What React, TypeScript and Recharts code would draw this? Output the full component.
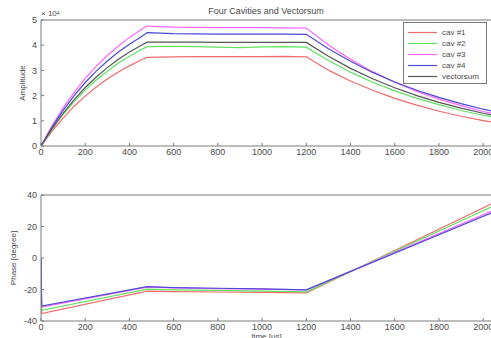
import React from 'react';
import { LineChart, Line, XAxis, YAxis } from 'recharts';

// ---------- data ----------
const timeUs = [0, 50, 100, 150, 200, 250, 300, 350, 400, 450, 480, 600, 700, 800, 900, 1000, 1100, 1200, 1300, 1400, 1500, 1600, 1700, 1800, 1900, 2000, 2040];
const cav1Amp = [0, 5900, 11100, 15800, 19800, 23400, 26600, 29400, 31800, 34000, 35200, 35400, 35500, 35500, 35500, 35500, 35600, 35400, 30100, 25800, 22100, 18900, 16200, 13800, 11800, 10100, 9500];
const cav2Amp = [0, 6600, 12500, 17600, 22200, 26200, 29700, 32900, 35600, 38100, 39400, 39500, 39400, 39200, 39000, 39300, 39400, 39200, 33900, 29300, 25300, 21900, 18900, 16400, 14100, 12200, 11600];
const cav3Amp = [0, 8000, 15100, 21300, 26800, 31700, 35900, 39700, 43100, 46000, 47600, 47200, 47100, 47000, 47000, 47000, 46900, 46800, 40100, 34400, 29500, 25300, 21700, 18600, 16000, 13700, 13000];
const cav4Amp = [0, 7500, 14100, 20000, 25200, 29700, 33700, 37300, 40400, 43200, 45000, 44600, 44500, 44400, 44400, 44400, 44400, 44300, 38600, 33600, 29200, 25400, 22100, 19300, 16800, 14600, 13900];
const vsumAmp = [0, 6900, 13000, 18400, 23200, 27400, 31100, 34400, 37300, 39800, 41200, 41200, 41200, 41100, 41100, 41100, 41100, 41100, 35600, 30800, 26700, 23100, 20000, 17300, 15000, 13000, 12300];

const phaseTime = [0, 3, 480, 600, 800, 1000, 1200, 2040];
const cav1Phase = [0, -35.3, -21.0, -21.3, -21.6, -21.8, -22.2, 34.5];
const cav2Phase = [0, -33.2, -19.8, -20.2, -20.6, -21.0, -21.5, 32.6];
const cav3Phase = [0, -31.2, -18.5, -19.0, -19.5, -19.8, -20.3, 29.8];
const cav4Phase = [0, -30.5, -18.2, -18.8, -19.2, -19.6, -20.2, 28.8];

const timeTicks = [0, 200, 400, 600, 800, 1000, 1200, 1400, 1600, 1800, 2000];
const ampTicks = [0, 10000, 20000, 30000, 40000, 50000];
const phaseTicks = [-40, -20, 0, 20, 40];

const seriesNames = ['cav #1', 'cav #2', 'cav #3', 'cav #4', 'vectorsum'];
const seriesColors = ['#f06a6a', '#62e062', '#ff66ff', '#4a4ad8', '#555555'];

const ampData = timeUs.map((t, i) => ({ t, c1: cav1Amp[i], c2: cav2Amp[i], c3: cav3Amp[i], c4: cav4Amp[i], vs: vsumAmp[i] }));
const phaseData = phaseTime.map((t, i) => ({ t, c1: cav1Phase[i], c2: cav2Phase[i], c3: cav3Phase[i], c4: cav4Phase[i] }));

// ---------- styles ----------
const FONT = '"Liberation Sans", Arial, sans-serif';
const axisStroke = { stroke: '#7a7a7a', strokeWidth: 1 };
const tickText = { fontSize: 9, fill: '#4a4a4a', fontFamily: FONT };

const rotLabel = (text: string, dx: number) => (props: any) => {
  const vb = props.viewBox || {};
  const x = dx;
  const y = (vb.y || 0) + (vb.height || 0) / 2;
  return (
    <text x={x} y={y} transform={`rotate(-90 ${x} ${y})`} textAnchor="middle" dominantBaseline="central"
      style={{ fontSize: 8, fill: '#4a4a4a', fontFamily: FONT }}>{text}</text>
  );
};

const LegendBox = () => (
  <div style={{ position: 'absolute', left: 403, top: 22, border: '1px solid #7a7a7a', background: '#fff', padding: '4px 0 1px 4px', width: 84, boxSizing: 'border-box', fontFamily: FONT }}>
    {seriesNames.map((n, i) => (
      <div key={n} style={{ display: 'flex', alignItems: 'center', height: 11 }}>
        <svg width={29} height={11} style={{ display: 'block' }}>
          <line x1={0} x2={29} y1={5.5} y2={5.5} stroke={seriesColors[i]} strokeWidth={1.2} />
        </svg>
        <span style={{ marginLeft: 5, fontSize: 8, color: '#4a4a4a', lineHeight: '11px' }}>{n}</span>
      </div>
    ))}
  </div>
);

const commonX = {
  dataKey: 't',
  type: 'number' as const,
  domain: [0, 2040],
  ticks: timeTicks,
  interval: 0 as const,
  allowDataOverflow: true,
  axisLine: axisStroke,
  tickLine: axisStroke,
  tickSize: -3,
};

export default function App() {
  return (
    <div style={{ position: 'absolute', left: 0, top: 0, width: 491, height: 338, overflow: 'hidden', background: '#fff' }}>
      {/* Title */}
      <div style={{ position: 'absolute', left: 166, width: 200, top: 6, textAlign: 'center', fontSize: 9, color: '#4a4a4a', fontFamily: FONT, lineHeight: '11px' }}>
        Four Cavities and Vectorsum
      </div>
      {/* exponent */}
      <div style={{ position: 'absolute', left: 41, top: 9, fontSize: 8, color: '#4a4a4a', fontFamily: FONT, lineHeight: '10px' }}>
        × 10<sup style={{ fontSize: 5, verticalAlign: 'top', position: 'relative', top: -1 }}>4</sup>
      </div>

      <div style={{ position: 'absolute', left: 0, top: 0 }}>
        <LineChart width={520} height={166} data={ampData} margin={{ top: 19, right: 18, bottom: 0, left: 0 }}>
          <XAxis xAxisId="b" {...commonX} height={20} tickMargin={6} tick={tickText} />
          <XAxis xAxisId="t" {...commonX} orientation="top" height={1} tick={false} />
          <YAxis yAxisId="l" domain={[0, 50000]} ticks={ampTicks} width={41} tickSize={-3} tickMargin={7}
            axisLine={axisStroke} tickLine={axisStroke} tick={tickText} interval={0}
            tickFormatter={(v: number) => String(v / 10000)} label={{ content: rotLabel('Amplitude', 22) }} />
          <YAxis yAxisId="r" orientation="right" domain={[0, 50000]} ticks={ampTicks} width={10} tickSize={-3}
            axisLine={axisStroke} tickLine={axisStroke} tick={false} interval={0} />
          {['c1', 'c2', 'c3', 'c4', 'vs'].map((k, i) => (
            <Line key={k} xAxisId="b" yAxisId="l" type="linear" dataKey={k} name={seriesNames[i]} stroke={seriesColors[i]}
              strokeWidth={1.2} dot={false} isAnimationActive={false} />
          ))}
        </LineChart>
      </div>
      <LegendBox />

      <div style={{ position: 'absolute', left: 0, top: 170 }}>
        <LineChart width={520} height={181} data={phaseData} margin={{ top: 24, right: 18, bottom: 0, left: 0 }}>
          <XAxis xAxisId="b" {...commonX} height={30} tickMargin={6} tick={tickText}
            label={{ value: 'time [us]', position: 'insideBottom', offset: 12, style: { fontSize: 8, fill: '#4a4a4a', fontFamily: FONT } }} />
          <XAxis xAxisId="t" {...commonX} orientation="top" height={1} tick={false} />
          <YAxis yAxisId="l" domain={[-40, 40]} ticks={phaseTicks} width={41} tickSize={-3} tickMargin={7}
            axisLine={axisStroke} tickLine={axisStroke} tick={tickText} interval={0}
            label={{ content: rotLabel('Phase [degree]', 13) }} />
          <YAxis yAxisId="r" orientation="right" domain={[-40, 40]} ticks={phaseTicks} width={10} tickSize={-3}
            axisLine={axisStroke} tickLine={axisStroke} tick={false} interval={0} />
          {['c1', 'c2', 'c3', 'c4'].map((k, i) => (
            <Line key={k} xAxisId="b" yAxisId="l" type="linear" dataKey={k} name={seriesNames[i]} stroke={seriesColors[i]}
              strokeWidth={1.2} dot={false} isAnimationActive={false} />
          ))}
        </LineChart>
      </div>
    </div>
  );
}
